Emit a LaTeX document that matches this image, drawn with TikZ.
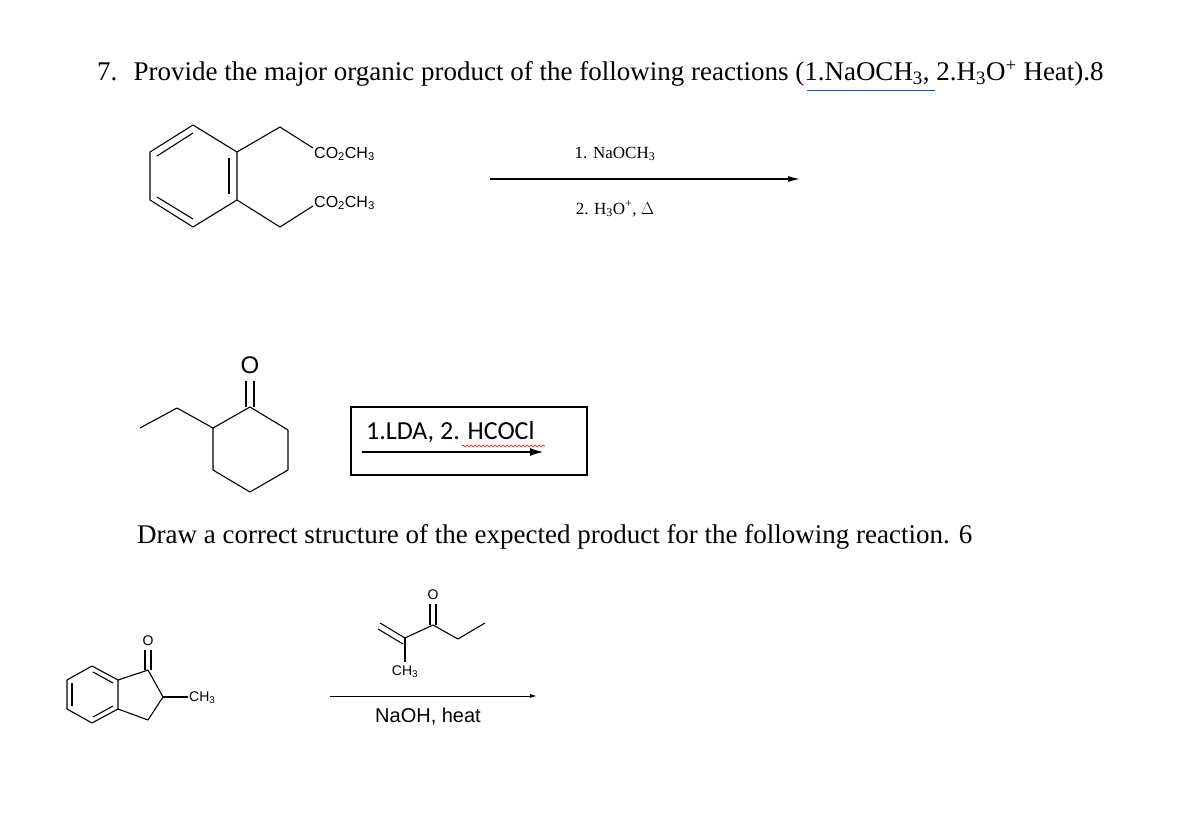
\documentclass[tikz,border=0pt]{standalone}
\usepackage{fontspec}
\setmainfont{Liberation Serif}
\newfontfamily\arial{Liberation Sans}
\newfontfamily\calib{Carlito}
\usetikzlibrary{decorations.pathmorphing,arrows.meta}
\tikzset{bond/.style={line width=1.1pt,line join=round},
 lbl/.style={font=\arial\fontsize{14}{16}\selectfont,inner sep=0pt},
 hd/.style={font=\fontsize{27}{30}\selectfont,inner sep=0pt,anchor=west}}
\begin{document}
\begin{tikzpicture}[x=1pt,y=-1pt]
\useasboundingbox (0,0) rectangle (1184,824);
\fill[white] (0,0) rectangle (1184,824);
\node[hd] (t1) at (97,74) {7.\hspace{0.6em}Provide the major organic product of the following reactions (1.NaOCH\textsubscript{3}, 2.H\textsubscript{3}O\textsuperscript{+} Heat).8};
\coordinate (u1) at (807,90); \coordinate (u2) at (935,90);
\draw[blue!70!cyan,line width=0.8pt] (u1) -- (u2);
% top molecule
\draw[bond] (193,125) -- (237,152) -- (237,200) -- (193,227) -- (150,200) -- (150,152) -- cycle;
\draw[bond] (157,156) -- (193,133);
\draw[bond] (229,158) -- (229,194);
\draw[bond] (157,197) -- (193,219);
\draw[bond] (237,152) -- (280,127) -- (313,148);
\draw[bond] (237,200) -- (280,227) -- (313,206);
\node[lbl,font=\arial\fontsize{16}{18}\selectfont,anchor=west] (e1) at (314,154) {CO\textsubscript{2}CH\textsubscript{3}};
\node[lbl,font=\arial\fontsize{16}{18}\selectfont,anchor=west] (e2) at (314,203) {CO\textsubscript{2}CH\textsubscript{3}};
\coordinate (a1) at (490,179); \coordinate (a2) at (800,179);
\draw[line width=1.1pt,-{Latex[length=12pt,width=6pt]}] (a1) -- (a2);
\node[inner sep=0pt,font=\fontsize{17}{19}\selectfont] (r1) at (615,154) {1. NaOCH\textsubscript{3}};
\node[inner sep=0pt,font=\fontsize{17}{19}\selectfont] (r2) at (615,209) {2. H\textsubscript{3}O\textsuperscript{+}, $\Delta$};
% cyclohexanone
\draw[bond] (250,407) -- (288,430) -- (288,470) -- (250,492) -- (213,470) -- (213,428) -- cycle;
\draw[bond] (213,428) -- (177,408) -- (140,428);
\draw[bond] (246,407) -- (246,381);
\draw[bond] (254,407) -- (254,381);
\node[inner sep=0pt,font=\arial\fontsize{24}{26}\selectfont] (o1) at (250,365) {O};
\node[draw,line width=1.2pt,minimum width=236pt,minimum height=68pt,inner sep=0pt] (box) at (469,441) {};
\node[inner sep=0pt,anchor=west,font=\calib\fontsize{26}{28}\selectfont] (lda) at (366,432) {1.LDA, 2. HCOCl};
\draw[red,line width=0.6pt,decorate,decoration={snake,amplitude=1pt,segment length=4pt}] (462,446) -- (545,446);
\coordinate (b1) at (362,452); \coordinate (b2) at (543,452);
\draw[line width=1.1pt,-{Latex[length=13pt,width=8pt]}] (b1) -- (b2);
\node[hd] (t2) at (137,537) {Draw a correct structure of the expected product for the following reaction. 6};
% indanone
\draw[bond] (92,666) -- (118,680) -- (118,709) -- (92,723) -- (67,709) -- (67,680) -- cycle;
\draw[bond] (72,683) -- (72,706);
\draw[bond] (93,672) -- (113,683);
\draw[bond] (93,717) -- (113,706);
\draw[bond] (118,680) -- (148,670) -- (163,697) -- (148,720) -- (118,709);
\draw[bond] (145,670) -- (145,650);
\draw[bond] (151,670) -- (151,650);
\node[lbl] (o2) at (148,641) {O};
\draw[bond] (163,697) -- (188,697);
\node[lbl,anchor=west] (m1) at (189,698) {CH\textsubscript{3}};
% reagent
\draw[bond] (405,638) -- (433,625) -- (458,639) -- (485,623);
\draw[bond] (405,638) -- (380,623);
\draw[bond] (403,644) -- (378,629);
\draw[bond] (430,625) -- (430,604);
\draw[bond] (436,625) -- (436,604);
\node[lbl] (o3) at (433,595) {O};
\draw[bond] (405,638) -- (405,662);
\node[lbl] (m2) at (405,672) {CH\textsubscript{3}};
\coordinate (c1) at (330,696); \coordinate (c2) at (537,696);
\draw[line width=1pt,-{Latex[length=7pt,width=4pt]}] (c1) -- (c2);
\node[inner sep=0pt,font=\arial\fontsize{20}{22}\selectfont] (na) at (428,717) {NaOH, heat};
\end{tikzpicture}
\end{document}
